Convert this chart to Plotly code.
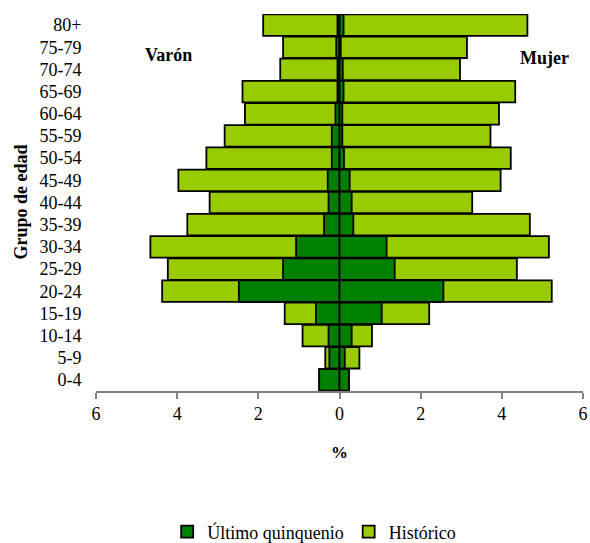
import plotly.graph_objects as go

grupos = ["0-4", "5-9", "10-14", "15-19", "20-24", "25-29", "30-34", "35-39",
          "40-44", "45-49", "50-54", "55-59", "60-64", "65-69", "70-74", "75-79", "80+"]

# Varón (left side, shown as negative values)
hist_varon = [-0.50, -0.35, -0.91, -1.35, -4.37, -4.23, -4.66, -3.75,
              -3.20, -3.97, -3.28, -2.83, -2.33, -2.39, -1.46, -1.39, -1.88]
ult_varon = [-0.50, -0.25, -0.27, -0.58, -2.48, -1.39, -1.07, -0.38,
             -0.27, -0.29, -0.19, -0.19, -0.10, -0.05, -0.05, -0.08, -0.05]

# Mujer (right side)
hist_mujer = [0.23, 0.49, 0.80, 2.21, 5.23, 4.37, 5.16, 4.69,
              3.27, 3.97, 4.22, 3.72, 3.93, 4.33, 2.97, 3.14, 4.63]
ult_mujer = [0.23, 0.13, 0.30, 1.04, 2.56, 1.36, 1.16, 0.34,
             0.30, 0.25, 0.11, 0.07, 0.07, 0.10, 0.08, 0.03, 0.10]

x_ticks = [-6, -4, -2, 0, 2, 4, 6]
x_tick_text = ["6", "4", "2", "0", "2", "4", "6"]

LIGHT = "#99CC00"
DARK = "#008000"
FONT = "Liberation Serif, Times New Roman, DejaVu Serif, serif"

fig = go.Figure()
line = dict(color="black", width=1.8)

fig.add_trace(go.Bar(y=grupos, x=hist_varon, orientation="h", name="Histórico",
                     marker=dict(color=LIGHT, line=line), legendgroup="h",
                     showlegend=True, legendrank=2))
fig.add_trace(go.Bar(y=grupos, x=hist_mujer, orientation="h", name="Histórico",
                     marker=dict(color=LIGHT, line=line), legendgroup="h",
                     showlegend=False))
fig.add_trace(go.Bar(y=grupos, x=ult_varon, orientation="h", name="Último quinquenio",
                     marker=dict(color=DARK, line=line), legendgroup="u",
                     showlegend=True, legendrank=1))
fig.add_trace(go.Bar(y=grupos, x=ult_mujer, orientation="h", name="Último quinquenio",
                     marker=dict(color=DARK, line=line), legendgroup="u",
                     showlegend=False))

fig.update_layout(
    width=590, height=543,
    margin=dict(l=96, r=7, t=14, b=152, autoexpand=False),
    barmode="overlay", bargap=0.03,
    plot_bgcolor="white", paper_bgcolor="white",
    font=dict(family=FONT, size=18, color="black"),
    showlegend=True,
    legend=dict(orientation="h", x=0.448, xanchor="center", y=-0.374, yanchor="middle",
                font=dict(family=FONT, size=18), traceorder="normal",
                itemwidth=30, tracegroupgap=0),
    xaxis=dict(range=[-6, 6], tickvals=x_ticks, ticktext=x_tick_text,
               showgrid=False, zeroline=False, showline=True, linecolor="#808080",
               linewidth=1.5, ticks="outside", ticklen=6, tickcolor="#808080",
               tickwidth=1.5, tickfont=dict(size=18), automargin=False,
               ticklabeloverflow="allow",
               title=dict(text="<b>%</b>", font=dict(size=17), standoff=23)),
    yaxis=dict(categoryorder="array", categoryarray=grupos, range=[-0.5, 16.5],
               showgrid=False, zeroline=False, showline=False, automargin=False,
               ticks="outside", ticklen=10, tickcolor="rgba(0,0,0,0)",
               tickfont=dict(size=18)),
    annotations=[
        dict(text="<b>Varón</b>", x=0.148, y=0.891, xref="paper", yref="paper",
             xanchor="center", yanchor="middle", showarrow=False, font=dict(size=18)),
        dict(text="<b>Mujer</b>", x=0.92, y=0.883, xref="paper", yref="paper",
             xanchor="center", yanchor="middle", showarrow=False, font=dict(size=18)),
        dict(text="<b>Grupo de edad</b>", x=-0.156, y=0.5, xref="paper", yref="paper",
             xanchor="center", yanchor="middle", showarrow=False, textangle=-90,
             font=dict(size=18)),
    ],
)

# remove the default page margin so the 590x543 figure fills the window exactly
fig.write_html("out.html",
               config={"displayModeBar": False},
               post_script="document.body.style.margin='0';"
                           "document.body.style.overflow='hidden';")
